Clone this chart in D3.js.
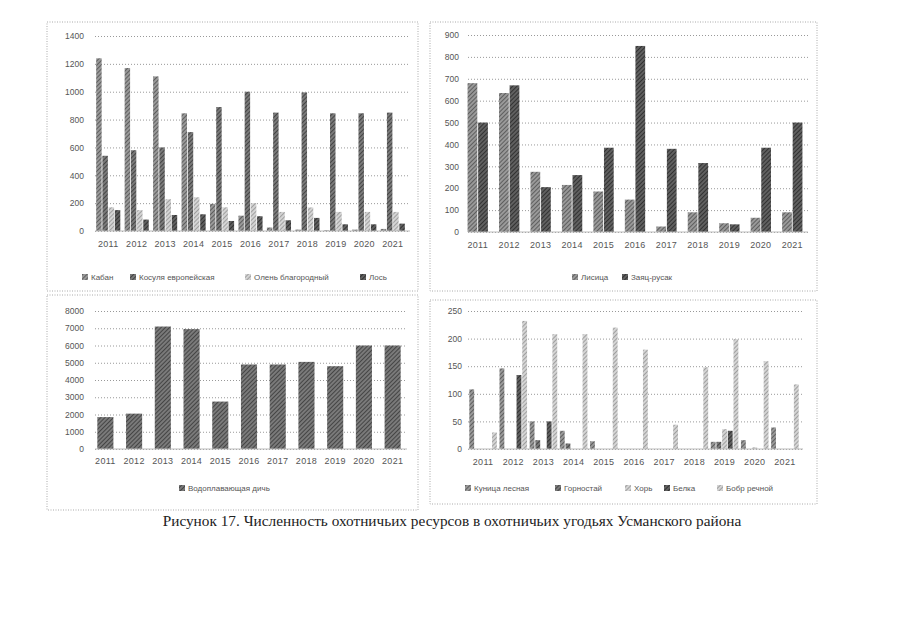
<!DOCTYPE html>
<html>
<head>
<meta charset="utf-8">
<script src="https://cdn.jsdelivr.net/npm/d3@7"></script>
<style>
  body { margin: 0; background: #fff; }
  svg text { font-family: "Liberation Sans", Arial, sans-serif; fill: #555; }
  .grid line { stroke: #999; stroke-dasharray: 1,2; }
  .caption { font-family: "Liberation Serif", "Times New Roman", serif; fill: #222; }
</style>
</head>
<body>
<script>
//data//
var years = ["2011","2012","2013","2014","2015","2016","2017","2018","2019","2020","2021"];

// big game
var bigNames = ["Кабан", "Косуля европейская", "Олень благородный", "Лось"];
var kaban    = [1240, 1170, 1110, 845, 195, 110, 25, 10, 5, 10, 15];
var kosulya  = [540, 580, 600, 710, 890, 1000, 850, 995, 845, 845, 850];
var olen     = [170, 150, 228, 242, 170, 200, 137, 169, 137, 137, 137];
var los      = [150, 82, 115, 120, 72, 106, 77, 94, 48, 48, 53];

// fox and hare
var smallNames = ["Лисица", "Заяц-русак"];
var lisica = [680, 635, 275, 215, 185, 148, 25, 90, 40, 65, 90];
var zayac  = [500, 670, 205, 260, 385, 850, 380, 315, 35, 385, 500];

// waterfowl
var birdNames = ["Водоплавающая дичь"];
var dich = [1850, 2050, 7100, 6950, 2750, 4900, 4900, 5050, 4800, 6000, 6000];

// fur animals
var furNames = ["Куница лесная", "Горностай", "Хорь", "Белка", "Бобр речной"];
var kunica    = [108, 146, 50, 33, 14, 0, 0, 0, 13, 16, 39];
var gornostay = [0, 0, 16, 10, 0, 0, 0, 0, 13, 0, 0];
var hor       = [0, 0, 0, 0, 0, 0, 0, 0, 36, 3, 0];
var belka     = [0, 134, 50, 0, 0, 0, 0, 0, 33, 0, 0];
var bobr      = [30, 232, 208, 208, 220, 180, 44, 148, 199, 159, 117];

var svg = d3.select("body").append("svg")
  .attr("width", 905)
  .attr("height", 640);

//hatch patterns//
var defs = svg.append("defs");
var hatches = {
  dark:  {bg: "#7a7a7a", line: "#333"},
  mid:   {bg: "#999", line: "#4a4a4a"},
  light: {bg: "#d4d4d4", line: "#8e8e8e"},
  vdark: {bg: "#606060", line: "#222"}
};
Object.keys(hatches).forEach(function(k) {
  var p = defs.append("pattern")
    .attr("id", "h-" + k)
    .attr("patternUnits", "userSpaceOnUse")
    .attr("width", 3).attr("height", 3)
    .attr("patternTransform", "rotate(45)");
  p.append("rect").attr("width", 3).attr("height", 3).attr("fill", hatches[k].bg);
  p.append("line").attr("x1", 0).attr("y1", 0).attr("x2", 0).attr("y2", 3)
    .attr("stroke", hatches[k].line).attr("stroke-width", 1.5);
});

function drawPanel(c) {
  var g = svg.append("g");

  // dotted frame
  g.append("rect")
    .attr("x", c.box[0]).attr("y", c.box[1])
    .attr("width", c.box[2] - c.box[0]).attr("height", c.box[3] - c.box[1])
    .attr("fill", "none").attr("stroke", "#aaa")
    .attr("stroke-dasharray", "1,1.5");

  var x = d3.scaleBand()
    .domain(years)
    .range(c.xRange)
    .paddingInner(c.padX)
    .paddingOuter(c.padX / 2);

  var xs = d3.scaleBand()
    .domain(d3.range(c.series.length))
    .range([0, x.bandwidth()])
    .padding(c.padS);

  var y = d3.scaleLinear()
    .domain([0, c.yMax])
    .range(c.yRange);

  var yAxis = d3.axisLeft(y)
    .tickValues(d3.range(0, c.yMax + 1, c.yStep))
    .tickFormat(d3.format("d"))
    .tickSize(-(c.gridEnd - c.gridStart))
    .tickPadding(c.gridStart - c.yLabelX);

  var ya = g.append("g")
    .attr("class", "grid")
    .attr("transform", "translate(" + c.gridStart + ",0)")
    .call(yAxis);
  ya.select(".domain").remove();
  ya.selectAll("text").style("font-size", "8.5px");

  c.series.forEach(function(s, si) {
    g.selectAll(null)
      .data(s.values)
      .enter().append("rect")
      .attr("x", function(d, i) { return x(years[i]) + xs(si); })
      .attr("y", function(d) { return y(d); })
      .attr("width", xs.bandwidth())
      .attr("height", function(d) { return y(0) - y(d); })
      .attr("fill", "url(#h-" + s.tone + ")");
  });

  var xAxis = d3.axisBottom(x).tickSize(0).tickPadding(c.xLabelY - c.yRange[0] - 8);
  var xa = g.append("g")
    .attr("transform", "translate(0," + c.yRange[0] + ")")
    .call(xAxis);
  xa.select(".domain").attr("stroke", "#bbb").attr("d", "M" + c.gridStart + ",0H" + c.gridEnd);
  xa.selectAll("text").style("font-size", "9px").style("letter-spacing", "0.3px");

  // legend
  c.series.forEach(function(s, si) {
    var lx = c.legendX[si];
    g.append("rect")
      .attr("x", lx - 3).attr("y", c.legendY - 3)
      .attr("width", 6).attr("height", 6)
      .attr("fill", "url(#h-" + s.tone + ")");
    g.append("text")
      .attr("x", lx + 6).attr("y", c.legendY + 3)
      .style("font-size", "8px")
      .text(s.name);
  });
}

drawPanel({
  box: [47, 22, 418, 291],
  xRange: [94, 407], padX: 0.1, padS: 0.12,
  yRange: [231, 36], yMax: 1400, yStep: 200,
  gridStart: 95, gridEnd: 410, yLabelX: 84,
  xLabelY: 249, legendY: 277,
  legendX: [85, 133, 248, 363],
  series: [
    {name: bigNames[0], values: kaban, tone: "mid"},
    {name: bigNames[1], values: kosulya, tone: "dark"},
    {name: bigNames[2], values: olen, tone: "light"},
    {name: bigNames[3], values: los, tone: "vdark"}
  ]
});

drawPanel({
  box: [430, 22, 817, 291],
  xRange: [462, 808], padX: 0.3, padS: 0.08,
  yRange: [232, 35], yMax: 900, yStep: 100,
  gridStart: 468, gridEnd: 808, yLabelX: 459,
  xLabelY: 250, legendY: 277,
  legendX: [575, 625],
  series: [
    {name: smallNames[0], values: lisica, tone: "mid"},
    {name: smallNames[1], values: zayac, tone: "vdark"}
  ]
});

drawPanel({
  box: [47, 295, 418, 510],
  xRange: [91, 407], padX: 0.44, padS: 0,
  yRange: [449, 311], yMax: 8000, yStep: 1000,
  gridStart: 95, gridEnd: 407, yLabelX: 84,
  xLabelY: 466, legendY: 488,
  legendX: [182],
  series: [
    {name: birdNames[0], values: dich, tone: "dark"}
  ]
});

drawPanel({
  box: [430, 300, 817, 504],
  xRange: [468, 800], padX: 0.03, padS: 0.15,
  yRange: [449, 311], yMax: 250, yStep: 50,
  gridStart: 468, gridEnd: 803, yLabelX: 462,
  xLabelY: 467, legendY: 488,
  legendX: [468, 558, 628, 667, 720],
  series: [
    {name: furNames[0], values: kunica, tone: "mid"},
    {name: furNames[1], values: gornostay, tone: "dark"},
    {name: furNames[2], values: hor, tone: "light"},
    {name: furNames[3], values: belka, tone: "vdark"},
    {name: furNames[4], values: bobr, tone: "light"}
  ]
});

svg.append("text")
  .attr("class", "caption")
  .attr("x", 452).attr("y", 526)
  .attr("text-anchor", "middle")
  .style("font-size", "15.3px")
  .text("Рисунок 17. Численность охотничьих ресурсов в охотничьих угодьях Усманского района");
</script>
</body>
</html>
